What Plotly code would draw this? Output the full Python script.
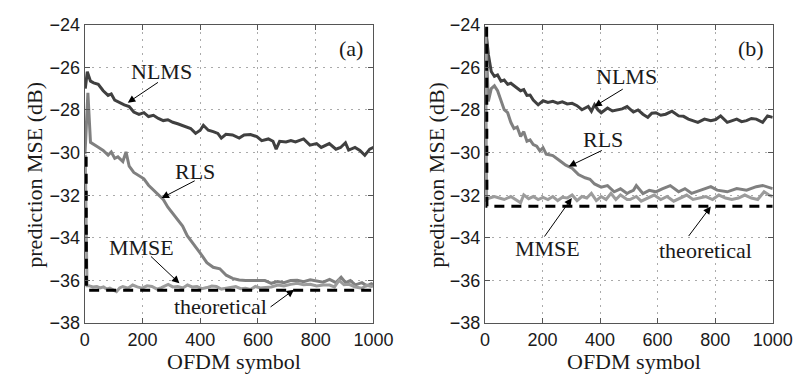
import plotly.graph_objects as go

# ---------------- panel (a) ----------------
xa_nlms = [2, 9, 20, 31, 47, 64, 81, 92, 104, 121, 137, 154, 170, 188, 205, 221, 238, 255, 272, 288,
           305, 322, 345, 367, 384, 400, 411, 428, 445, 461, 473, 489, 512, 535, 552, 574, 596, 613,
           636, 652, 663, 675, 697, 714, 730, 758, 780, 803, 819, 847, 870, 886, 903, 914, 936, 953,
           970, 987, 1000]
ya_nlms = [-27.0, -26.21, -26.65, -26.73, -26.8, -27.1, -27.32, -27.25, -27.54, -27.66, -27.76, -27.84,
           -28.1, -28.21, -28.13, -28.31, -28.25, -28.4, -28.5, -28.46, -28.58, -28.65, -28.75, -28.87,
           -29.1, -28.95, -28.72, -28.95, -29.02, -29.1, -29.32, -29.14, -29.17, -29.32, -29.17, -29.15,
           -29.25, -29.44, -29.36, -29.47, -29.84, -29.47, -29.5, -29.44, -29.5, -29.36, -29.65, -29.58,
           -29.76, -29.58, -29.84, -29.76, -29.54, -29.88, -29.76, -29.9, -30.13, -29.84, -29.76]

xa_rls = [1, 11, 20, 31, 47, 64, 81, 92, 104, 115, 132, 143, 154, 170, 188, 205, 221, 238, 255, 272,
          288, 305, 322, 339, 355, 372, 385, 400, 423, 445, 468, 490, 512, 535, 557, 580, 602, 624,
          646, 668, 690, 713, 736, 758, 781, 803, 826, 848, 870, 888, 904, 920, 937, 960, 977, 993, 1000]
ya_rls = [-30.06, -27.2, -29.52, -29.6, -29.75, -29.9, -30.12, -29.97, -30.27, -30.2, -30.42, -29.97,
          -30.64, -30.93, -31.08, -31.23, -31.53, -31.75, -31.97, -32.2, -32.56, -32.86, -33.16, -33.45,
          -33.9, -34.2, -34.45, -34.71, -35.16, -35.38, -35.45, -35.75, -35.9, -35.97, -36.0, -36.0,
          -36.02, -36.0, -36.13, -36.05, -36.1, -36.0, -35.99, -36.05, -35.97, -36.02, -36.08, -35.95,
          -36.1, -35.85, -36.1, -36.0, -36.2, -36.1, -36.25, -36.15, -36.2]

xa_mmse = [2, 8, 14, 28, 42, 54, 65, 76, 87, 98, 110, 121, 132, 150, 166, 182, 199, 216, 233, 250,
           266, 289, 305, 322, 340, 356, 372, 389, 406, 423, 440, 456, 473, 490, 507, 523, 540, 557,
           574, 591, 608, 624, 646, 669, 690, 713, 736, 758, 781, 803, 826, 848, 865, 881, 898, 915,
           937, 960, 977, 993, 1000]
ya_mmse = [-30.1, -36.24, -36.24, -36.3, -36.28, -36.35, -36.3, -36.4, -36.36, -36.45, -36.52, -36.35,
           -36.28, -36.36, -36.21, -36.3, -36.36, -36.25, -36.28, -36.4, -36.33, -36.18, -36.3, -36.28,
           -36.35, -36.21, -36.3, -36.28, -36.38, -36.33, -36.26, -36.28, -36.4, -36.36, -36.3, -36.28,
           -36.38, -36.36, -36.42, -36.28, -36.35, -36.33, -36.3, -36.21, -36.25, -36.18, -36.13, -36.2,
           -36.18, -36.25, -36.21, -36.21, -36.3, -35.99, -36.2, -36.18, -36.3, -36.36, -36.22, -36.28,
           -36.25]

xa_theo = [5, 6, 1000]
ya_theo = [-30.2, -36.45, -36.45]

# ---------------- panel (b) ----------------
xb_nlms = [3, 12, 22, 33, 44, 56, 67, 79, 90, 101, 112, 124, 135, 146, 157, 168, 185, 202, 219, 236,
           253, 269, 286, 303, 320, 337, 359, 370, 381, 393, 404, 415, 426, 443, 460, 477, 494, 516,
           532, 549, 566, 580, 594, 611, 628, 650, 673, 690, 707, 724, 740, 763, 785, 802, 819, 842,
           858, 875, 892, 909, 926, 943, 965, 982, 1000]
yb_nlms = [-24.2, -25.4, -26.2, -26.43, -26.36, -26.65, -26.6, -26.8, -26.75, -26.87, -26.95, -27.1,
           -27.05, -27.32, -27.3, -27.54, -27.76, -27.57, -27.65, -27.6, -27.68, -27.62, -27.72, -27.69,
           -27.8, -27.99, -27.84, -28.06, -27.76, -28.0, -28.13, -28.0, -27.91, -28.05, -27.99, -27.95,
           -27.84, -28.1, -28.0, -28.2, -28.35, -28.15, -28.13, -28.25, -28.2, -28.06, -28.28, -28.3,
           -28.43, -28.5, -28.58, -28.43, -28.5, -28.45, -28.28, -28.58, -28.5, -28.43, -28.55, -28.5,
           -28.4, -28.43, -28.58, -28.28, -28.35]

xb_rls = [3, 12, 22, 33, 44, 56, 67, 79, 90, 101, 112, 124, 135, 146, 157, 168, 180, 191, 202, 213,
          236, 258, 281, 303, 325, 348, 365, 381, 404, 426, 449, 471, 494, 504, 516, 526, 549, 571,
          594, 616, 644, 673, 695, 718, 752, 785, 807, 842, 875, 909, 943, 965, 1000]
yb_rls = [-24.3, -27.6, -27.0, -26.87, -27.1, -27.54, -27.99, -28.13, -28.58, -28.87, -28.8, -29.24,
          -29.02, -29.47, -29.4, -29.62, -29.7, -29.92, -29.77, -30.07, -30.14, -30.36, -30.59, -30.73,
          -31.03, -31.18, -31.25, -31.47, -31.62, -31.55, -31.84, -31.7, -31.92, -31.84, -31.77, -31.55,
          -31.92, -31.77, -31.84, -31.7, -31.55, -31.84, -31.69, -31.91, -31.76, -31.6, -31.76, -31.84,
          -31.69, -31.76, -31.6, -31.54, -31.69]

xb_mmse = [2, 6, 16, 33, 50, 67, 90, 107, 124, 135, 152, 168, 185, 202, 219, 236, 253, 269, 286, 303,
           320, 337, 354, 370, 387, 404, 421, 438, 455, 471, 494, 504, 526, 543, 566, 588, 611, 633,
           656, 679, 701, 723, 746, 768, 791, 813, 836, 858, 881, 903, 926, 948, 970, 987, 1000]
yb_mmse = [-24.2, -32.2, -32.13, -32.06, -32.13, -32.2, -32.06, -32.2, -32.35, -31.98, -32.16, -32.06,
           -32.2, -32.1, -32.2, -32.06, -32.25, -32.1, -32.13, -31.99, -32.25, -32.06, -32.13, -31.91,
           -32.25, -32.06, -32.2, -31.91, -32.2, -31.99, -32.2, -32.2, -32.06, -32.28, -32.13, -31.99,
           -32.2, -32.06, -32.28, -32.13, -31.99, -32.2, -32.13, -32.06, -32.2, -31.99, -32.13, -32.2,
           -32.13, -31.99, -32.13, -32.2, -31.84, -31.99, -32.06]

xb_theo = [6, 7, 1000]
yb_theo = [-24.1, -32.52, -32.52]

x_ticks = [0, 200, 400, 600, 800, 1000]
y_ticks = [-24, -26, -28, -30, -32, -34, -36, -38]

C_NLMS = "#404040"
C_RLS = "#808080"
C_MMSE = "#9c9c9c"

W, H = 807, 383
fig = go.Figure()


def line(x, y, color, xa, ya, dash="solid", width=3):
    fig.add_trace(go.Scatter(x=x, y=y, mode="lines", xaxis=xa, yaxis=ya,
                             line=dict(color=color, width=width, dash=dash),
                             hoverinfo="skip", showlegend=False))


for xa, ya, d in [("x", "y", (xa_nlms, ya_nlms, xa_rls, ya_rls, xa_mmse, ya_mmse, xa_theo, ya_theo)),
                  ("x2", "y2", (xb_nlms, yb_nlms, xb_rls, yb_rls, xb_mmse, yb_mmse, xb_theo, yb_theo))]:
    line(d[0], d[1], C_NLMS, xa, ya)
    line(d[2], d[3], C_RLS, xa, ya)
    line(d[4], d[5], C_MMSE, xa, ya)
    line(d[6], d[7], "black", xa, ya, dash="10px,7px")

tickfont = dict(family="Liberation Sans", size=18, color="#1a1a1a")
serif = dict(family="Liberation Serif", size=22, color="#1a1a1a")

ax_common = dict(showline=True, linecolor="#555", linewidth=1, mirror="ticks",
                 ticks="inside", ticklen=5, tickcolor="#555", tickfont=tickfont,
                 ticklabeloverflow="allow",
                 showgrid=True, gridcolor="#aaaaaa", gridwidth=1, griddash="2px,5px",
                 zeroline=False, fixedrange=True)

ydom = [1 - 322 / H, 1 - 7 / H]
fig.update_layout(
    width=W, height=H, margin=dict(l=0, r=0, t=0, b=0),
    paper_bgcolor="white", plot_bgcolor="white", showlegend=False,
    xaxis=dict(domain=[74 / W, 372 / W], anchor="y", range=[0, 1000], tickvals=x_ticks, **ax_common),
    yaxis=dict(domain=ydom, anchor="x", range=[-38, -24], tickvals=y_ticks, **ax_common),
    xaxis2=dict(domain=[487 / W, 784 / W], anchor="y2", range=[0, 1000], tickvals=x_ticks, **ax_common),
    yaxis2=dict(domain=ydom, anchor="x2", range=[-38, -24], tickvals=y_ticks, **ax_common),
)

ann = []
# axis titles
for xc in (228 / W, 641 / W):
    ann.append(dict(xref="paper", yref="paper", x=xc, y=1 - 362 / H, text="OFDM symbol",
                    showarrow=False, font=serif, xanchor="center", yanchor="middle"))
for xc in (22 / W, 437 / W):
    ann.append(dict(xref="paper", yref="paper", x=xc, y=1 - 165 / H, text="prediction MSE (dB)",
                    textangle=-90, showarrow=False, font=serif, xanchor="center", yanchor="middle"))

# labels (text) per panel
labels = [
    ("x", "y", 267, -26.22, "NLMS"), ("x", "y", 383, -30.89, "RLS"),
    ("x", "y", 196, -34.44, "MMSE"), ("x", "y", 470, -37.24, "theoretical"),
    ("x", "y", 921, -25.11, "(a)"),
    ("x2", "y2", 492, -26.44, "NLMS"), ("x2", "y2", 411, -29.38, "RLS"),
    ("x2", "y2", 219, -34.49, "MMSE"), ("x2", "y2", 768, -34.58, "theoretical"),
    ("x2", "y2", 925, -25.11, "(b)"),
]
for xr, yr, xv, yv, t in labels:
    ann.append(dict(xref=xr, yref=yr, x=xv, y=yv, text=t, showarrow=False, font=serif,
                    xanchor="center", yanchor="middle"))

# arrows: head in data coords, tail offset in pixels
arrows = [
    ("x", "y", 149, -27.66, 31.7, -21.3), ("x", "y", 266, -32.13, 34.7, -18),
    ("x", "y", 328, -36.13, -30, -28.3), ("x", "y", 725, -36.43, -25, 18.3),
    ("x2", "y2", 380, -27.84, 30, -18.3), ("x2", "y2", 291, -30.65, 34.7, -16.7),
    ("x2", "y2", 302, -32.13, -28.4, 40), ("x2", "y2", 785, -32.53, -23.3, 31),
]
for xr, yr, xv, yv, dx, dy in arrows:
    ann.append(dict(xref=xr, yref=yr, x=xv, y=yv, ax=dx, ay=dy, text="", showarrow=True,
                    arrowhead=2, arrowsize=1.5, arrowwidth=1, arrowcolor="black"))

fig.update_layout(annotations=ann)
fig.write_html("out.html")
